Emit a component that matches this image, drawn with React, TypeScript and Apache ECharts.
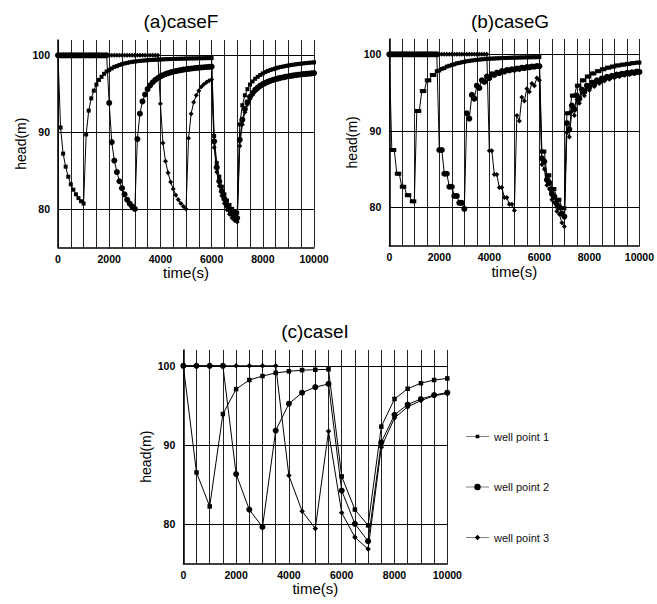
import React, { useEffect, useRef } from 'react';
import * as echarts from 'echarts';

const FONT = '"Liberation Sans", Arial, Helvetica, sans-serif';

// sample times (s)
const TIME_FG = [0,100,200,300,400,500,600,700,800,900,1000,1100,1200,1300,1400,1500,1600,1700,1800,1900,2000,2100,2200,2300,2400,2500,2600,2700,2800,2900,3000,3100,3200,3300,3400,3500,3600,3700,3800,3900,4000,4100,4200,4300,4400,4500,4600,4700,4800,4900,5000,5100,5200,5300,5400,5500,5600,5700,5800,5900,6000,6100,6200,6300,6400,6500,6600,6700,6800,6900,7000,7100,7200,7300,7400,7500,7600,7700,7800,7900,8000,8100,8200,8300,8400,8500,8600,8700,8800,8900,9000,9100,9200,9300,9400,9500,9600,9700,9800,9900,10000];
const TIME_I = [0,500,1000,1500,2000,2500,3000,3500,4000,4500,5000,5500,6000,6500,7000,7500,8000,8500,9000,9500,10000];

// (a) caseF
const F_WELL1 = [100,90.6,87.2,85.5,84.2,83.2,82.5,81.9,81.4,81.0,80.7,
  89.7,92.8,94.4,95.4,96.2,96.8,97.2,97.6,97.9,98.1,
  98.3,98.5,98.6,98.75,98.85,98.95,99.02,99.1,99.15,99.2,
  99.24,99.28,99.31,99.34,99.37,99.39,99.41,99.43,99.45,99.47,
  99.48,99.5,99.51,99.52,99.53,99.54,99.55,99.56,99.57,99.58,
  99.59,99.6,99.6,99.61,99.62,99.62,99.63,99.64,99.64,99.65,
  89.5,86.0,84.2,82.9,81.9,81.1,80.5,80.0,79.7,79.5,
  91.0,93.5,94.8,95.6,96.2,96.6,96.95,97.2,97.45,97.65,
  97.82,97.97,98.1,98.2,98.3,98.4,98.48,98.55,98.62,98.68,
  98.74,98.79,98.84,98.88,98.92,98.96,99.0,99.03,99.06,99.09];
const F_WELL2 = [100,100,100,100,100,100,100,100,100,100,100,
  100,100,100,100,100,100,100,100,100,93.8,
  88.7,86.3,84.8,83.6,82.7,81.9,81.2,80.7,80.3,80.0,
  89.1,92.4,94.0,94.9,95.6,96.1,96.5,96.8,97.05,97.25,
  97.42,97.56,97.68,97.78,97.87,97.95,98.02,98.08,98.14,98.19,
  98.24,98.28,98.32,98.36,98.39,98.42,98.45,98.48,98.5,98.52,
  88.8,85.4,83.6,82.3,81.3,80.5,79.9,79.4,79.1,78.8,
  89.0,91.6,93.0,93.9,94.6,95.1,95.5,95.8,96.05,96.25,
  96.42,96.57,96.7,96.81,96.91,97.0,97.08,97.15,97.22,97.28,
  97.34,97.39,97.44,97.48,97.52,97.56,97.6,97.63,97.66,97.69];
const F_WELL3 = [100,100,100,100,100,100,100,100,100,100,100,
  100,100,100,100,100,100,100,100,100,100,
  100,100,100,100,100,100,100,100,100,100,
  100,100,100,100,100,100,100,100,100,93.7,
  88.6,86.2,84.7,83.5,82.6,81.8,81.2,80.7,80.3,80.0,
  89.2,92.4,93.9,94.8,95.4,95.9,96.25,96.5,96.7,96.85,
  88.0,84.8,83.0,81.7,80.7,79.9,79.3,78.8,78.5,78.3,
  88.2,91.0,92.6,93.6,94.3,94.85,95.3,95.6,95.88,96.1,
  96.28,96.44,96.58,96.7,96.8,96.9,96.98,97.06,97.13,97.19,
  97.25,97.3,97.35,97.4,97.44,97.48,97.52,97.55,97.58,97.61];

// (b) caseG
const G_WELL1 = [100,87.5,87.5,84.4,84.4,82.7,82.7,81.6,81.6,80.8,80.8,
  92.6,92.6,95.2,95.2,96.6,96.6,97.3,97.3,97.8,97.9,
  98.1,98.2,98.4,98.5,98.62,98.7,98.82,98.88,98.97,99.02,
  99.1,99.14,99.2,99.23,99.28,99.31,99.35,99.37,99.4,99.42,
  99.44,99.46,99.48,99.49,99.51,99.52,99.53,99.54,99.55,99.56,
  99.57,99.58,99.59,99.6,99.6,99.61,99.62,99.62,99.63,99.64,
  87.3,87.3,84.2,84.2,82.4,82.4,81.0,81.0,79.9,79.9,
  92.3,92.3,94.6,94.6,95.9,95.9,96.6,96.6,97.1,97.1,
  97.5,97.5,97.8,97.8,98.05,98.05,98.25,98.25,98.4,98.4,
  98.55,98.55,98.65,98.65,98.75,98.75,98.85,98.85,98.92,98.92];
const G_WELL2 = [100,100,100,100,100,100,100,100,100,100,100,
  100,100,100,100,100,100,100,100,100,87.5,
  87.5,84.4,84.4,82.7,82.7,81.5,81.5,80.6,80.6,79.8,
  92.3,91.6,94.7,94.2,95.9,95.6,96.6,96.4,97.1,96.9,
  97.4,97.3,97.6,97.55,97.8,97.75,97.95,97.9,98.05,98.0,
  98.15,98.1,98.25,98.2,98.33,98.3,98.4,98.38,98.47,98.45,
  86.4,86.0,83.6,83.2,81.8,81.4,80.4,80.0,79.2,78.8,
  91.0,90.2,93.3,92.8,94.6,94.2,95.4,95.1,95.9,95.7,
  96.3,96.1,96.6,96.45,96.85,96.75,97.05,96.95,97.2,97.12,
  97.35,97.28,97.47,97.41,97.57,97.52,97.66,97.62,97.74,97.7];
const G_WELL3 = [100,100,100,100,100,100,100,100,100,100,100,
  100,100,100,100,100,100,100,100,100,100,
  100,100,100,100,100,100,100,100,100,100,
  100,100,100,100,100,100,100,100,100,87.4,
  87.4,84.3,84.3,82.6,82.6,81.3,81.3,80.4,80.4,79.6,
  92.0,91.3,94.4,93.9,95.5,95.1,96.2,95.9,96.9,96.6,
  85.6,85.0,82.9,82.4,81.0,80.6,79.5,79.1,78.0,77.5,
  89.8,89.2,92.6,92.0,94.1,93.6,95.0,94.6,95.6,95.3,
  96.05,95.8,96.4,96.2,96.65,96.5,96.88,96.75,97.05,96.95,
  97.2,97.1,97.33,97.25,97.44,97.37,97.53,97.47,97.6,97.56];

// (c) caseI
const I_WELL1 = [100,86.5,82.2,93.9,97.05,98.2,98.7,99.1,99.3,99.45,99.5,99.55,86.0,81.8,79.8,92.3,95.8,97.1,97.8,98.2,98.4];
const I_WELL2 = [100,100,100,100,86.3,81.8,79.6,91.8,95.2,96.6,97.3,97.7,84.2,80.0,77.8,90.3,93.8,95.1,95.8,96.3,96.6];
const I_WELL3 = [100,100,100,100,100,100,100,100,86.1,81.6,79.4,91.7,81.4,78.3,76.8,89.7,93.4,94.8,95.6,96.2,96.5];

const SERIES_NAMES = ['well point 1', 'well point 2', 'well point 3'];
const TITLES = ['(a)caseF', '(b)caseG', '(c)caseI'];
const X_LABELS = [0, 2000, 4000, 6000, 8000, 10000];
const Y_LABELS = [80, 90, 100];

const LEGEND_ICONS = [
  'path://M0 3.6H10.5V4.4H0Z M14.5 3.6H25V4.4H14.5Z M10.5 2H14.5V6H10.5Z',
  'path://M0 3.6H9.3V4.4H0Z M15.7 3.6H25V4.4H15.7Z M9 4A3.5 3.5 0 1 1 16 4A3.5 3.5 0 1 1 9 4Z',
  'path://M0 3.6H10V4.4H0Z M15 3.6H25V4.4H15Z M12.5 1L15.5 4L12.5 7L9.5 4Z',
];

export default function App() {
  const ref = useRef<HTMLDivElement>(null);
  useEffect(() => {
    if (!ref.current) return;
    const chart = echarts.init(ref.current, null, { renderer: 'svg' });

    const grids = [
      { left: 58, top: 40, width: 256, height: 207.3 },
      { left: 389.3, top: 39, width: 255, height: 206.7 },
      { left: 183.3, top: 350, width: 264, height: 213.3 },
    ];

    const xAxes = grids.map((_, gi) => ({
      type: 'value', gridIndex: gi, min: 0, max: 10000, interval: 500,
      name: 'time(s)', nameLocation: 'middle', nameGap: 17,
      nameTextStyle: { fontSize: 15, color: '#000', fontFamily: FONT },
      axisLine: { show: true, lineStyle: { color: '#000', width: 1.5 } },
      axisTick: { show: false },
      axisLabel: {
        formatter: (v: number) => (X_LABELS.indexOf(v) >= 0 ? String(v) : ''),
        fontSize: 10.5, fontWeight: 'bold', color: '#000', margin: 6, fontFamily: FONT,
      },
      splitLine: { show: true, lineStyle: { color: '#222', width: 1 } },
    }));

    const yAxes = grids.map((_, gi) => ({
      type: 'value', gridIndex: gi, min: 75, max: 102, interval: 5,
      name: 'head(m)', nameLocation: 'middle', nameGap: 30,
      nameTextStyle: { fontSize: 14, color: '#000', fontFamily: FONT },
      axisLine: { show: true, lineStyle: { color: '#000', width: 1.5 } },
      axisTick: { show: false },
      axisLabel: {
        formatter: (v: number) => (Y_LABELS.indexOf(v) >= 0 ? String(v) : ''),
        fontSize: 10.5, fontWeight: 'bold', color: '#000', margin: 8, fontFamily: FONT,
      },
      splitLine: { show: true, lineStyle: { color: ['rgba(0,0,0,0)', '#000'], width: 1 } },
    }));

    const symbols = ['rect', 'circle', 'diamond'];
    const sizesFG = [4, 6, 5];
    const sizesI = [4.5, 6, 5.5];
    const datasets = [
      { times: TIME_FG, wells: [F_WELL1, F_WELL2, F_WELL3], sizes: sizesFG },
      { times: TIME_FG, wells: [G_WELL1, G_WELL2, G_WELL3], sizes: sizesFG },
      { times: TIME_I, wells: [I_WELL1, I_WELL2, I_WELL3], sizes: sizesI },
    ];

    const series: any[] = [];
    datasets.forEach((ds, gi) => {
      ds.wells.forEach((vals, wi) => {
        series.push({
          type: 'line', name: SERIES_NAMES[wi], xAxisIndex: gi, yAxisIndex: gi,
          data: ds.times.map((t, i) => [t, vals[i]]),
          symbol: symbols[wi], symbolSize: ds.sizes[wi], showSymbol: true,
          lineStyle: { color: '#000', width: 1 },
          itemStyle: { color: '#000' },
          emphasis: { disabled: true }, silent: true, z: 3,
        });
      });
    });

    const titlePos = [[181, 21], [510, 21], [315, 331]];

    chart.setOption({
      animation: false,
      backgroundColor: '#fff',
      grid: grids,
      xAxis: xAxes,
      yAxis: yAxes,
      series,
      legend: {
        orient: 'vertical', left: 461, top: 426, itemWidth: 23, itemHeight: 8, itemGap: 39.5,
        selectedMode: false,
        data: SERIES_NAMES.map((n, i) => ({ name: n, icon: LEGEND_ICONS[i], itemStyle: { color: '#000' } })),
        textStyle: { fontSize: 11, color: '#111', fontFamily: FONT },
      },
      graphic: TITLES.map((t, i) => ({
        type: 'text', x: titlePos[i][0], y: titlePos[i][1],
        style: { text: t, fontSize: 19, fontFamily: FONT, fill: '#000', align: 'center', verticalAlign: 'middle' },
      })),
    });
    return () => chart.dispose();
  }, []);
  return <div ref={ref} style={{ position: 'fixed', left: 0, top: 0, width: 657, height: 604, background: '#fff' }} />;
}
